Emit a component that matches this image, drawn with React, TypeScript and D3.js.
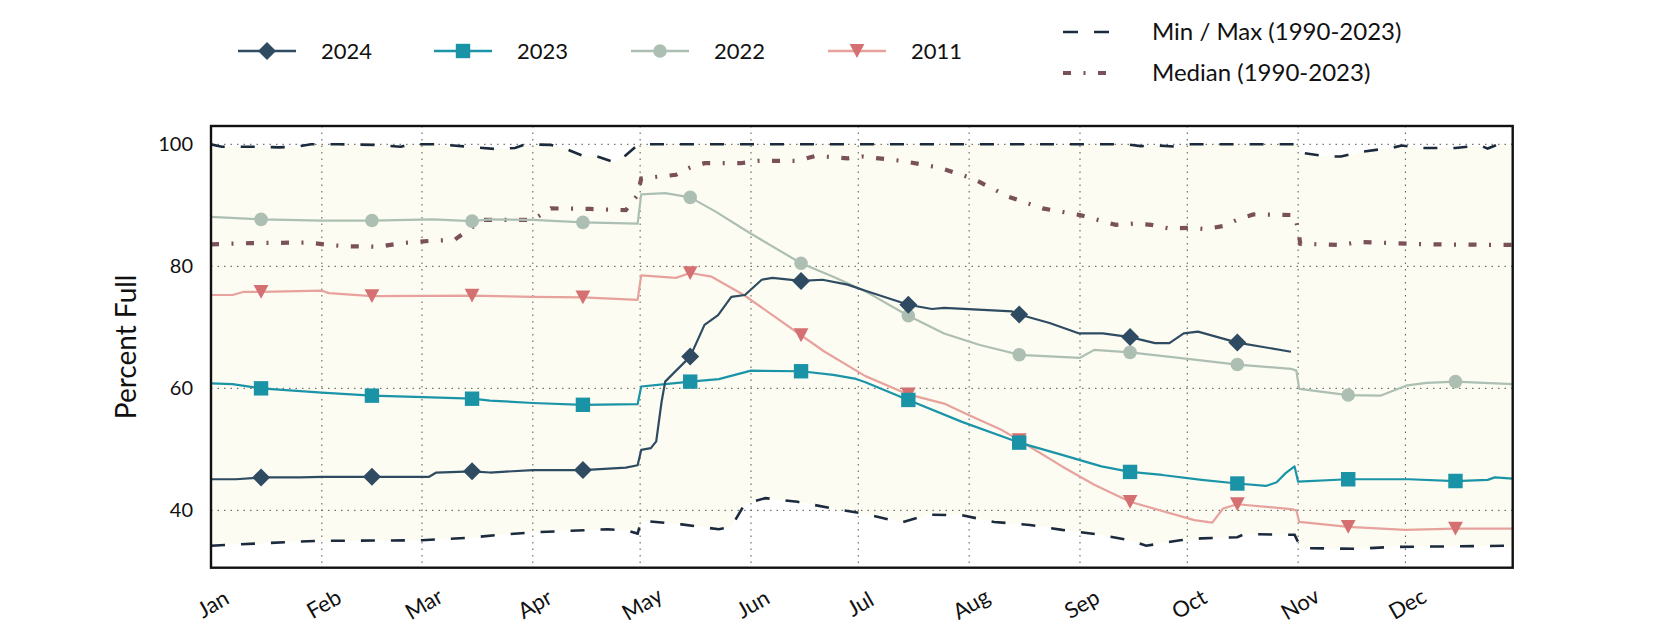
import React from 'react';
import * as d3 from 'd3';

type Pt = [number, number];

const monthLabels = ['Jan', 'Feb', 'Mar', 'Apr', 'May', 'Jun', 'Jul', 'Aug', 'Sep', 'Oct', 'Nov', 'Dec'];
const monthStartDays = [0, 31, 59, 90, 120, 151, 181, 212, 243, 273, 304, 334];
const yTicks = [40, 60, 80, 100];
const markerDays = [14, 45, 73, 104, 134, 165, 195, 226, 257, 287, 318, 348];

const series2024: Pt[] = [
  [0, 45.1], [7, 45.1], [14, 45.4], [25, 45.4], [31, 45.5], [45, 45.5], [61, 45.5], [63, 46.2], [73, 46.4],
  [78, 46.2], [90, 46.6], [104, 46.6], [116, 47.0], [119.3, 47.4], [120.3, 49.9], [123, 50.2], [124.5, 51.3],
  [126, 57.8], [127, 61.1], [129.7, 62.7], [134, 65.2], [138, 70.4], [141.8, 72.0], [145.5, 75.0], [149.3, 75.3],
  [154, 77.8], [157, 78.1], [165, 77.6], [171, 77.8], [178, 77.0], [183, 76.0], [195, 73.7], [201.6, 73.0],
  [205, 73.2], [224, 72.6], [226, 72.1], [234.5, 70.7], [242.8, 69.0], [249.4, 69.0], [257, 68.4], [264, 67.4],
  [268, 67.4], [272, 69.0], [276, 69.3], [287, 67.5], [302, 66.0],
];

const series2023: Pt[] = [
  [0, 60.8], [6, 60.7], [14, 60.0], [31, 59.3], [45, 58.8], [57, 58.6], [73, 58.3], [78, 58.0], [90, 57.6],
  [104, 57.3], [119.3, 57.4], [120.3, 60.3], [127, 60.7], [134, 61.1], [142, 61.5], [151, 62.9], [165, 62.8],
  [174, 62.2], [180, 61.6], [183, 61.0], [195, 58.1], [210, 54.5], [226, 51.1], [238, 49.1], [249, 47.2],
  [257, 46.3], [266, 45.8], [277, 45.0], [287, 44.4], [295, 44.0], [298, 44.6], [300.5, 46.1], [303, 47.2],
  [304, 44.7], [318, 45.1], [335, 45.1], [348, 44.8], [357, 45.0], [359, 45.4], [364, 45.2],
];

const series2022: Pt[] = [
  [0, 88.1], [14, 87.7], [31, 87.5], [45, 87.5], [62, 87.7], [73, 87.4], [78, 87.7], [90, 87.6], [104, 87.2],
  [119.3, 87.0], [120.3, 91.8], [127, 92.0], [134, 91.3], [141, 89.0], [150, 85.7], [165, 80.5], [174, 78.3],
  [183, 75.9], [195, 71.9], [205, 69.0], [215, 67.1], [226, 65.5], [243, 65.0], [247, 66.3], [257, 65.9],
  [275, 64.7], [287, 63.9], [302, 63.2], [303.5, 62.9], [304.3, 59.9], [318, 58.9], [327, 58.8], [334.5, 60.5],
  [340, 60.9], [348, 61.1], [364, 60.7],
];

const series2011: Pt[] = [
  [0, 75.3], [6, 75.3], [9, 75.8], [14, 75.8], [31, 76.0], [33, 75.6], [45, 75.1], [73, 75.2], [90, 75.0],
  [104, 74.9], [119.3, 74.5], [120.3, 78.5], [130, 78.1], [134, 78.9], [140, 78.3], [149, 75.3], [165, 68.7],
  [171.6, 66.0], [183, 62.0], [195, 59.0], [205, 57.5], [212, 55.6], [221, 53.2], [226, 51.5], [238, 47.2],
  [247, 44.2], [257, 41.4], [275, 38.4], [280, 38.0], [283, 40.3], [287, 41.0], [302, 40.2], [303.5, 40.0],
  [304.3, 38.1], [318, 37.3], [334, 36.8], [348, 37.0], [364, 37.0],
];

const seriesMedian: Pt[] = [
  [0, 83.6], [11, 83.8], [27, 83.9], [31.6, 83.6], [37, 83.3], [47, 83.2], [53, 83.8], [62, 84.2], [68, 84.3],
  [72, 86.0], [76, 87.6], [90, 87.6], [95, 89.5], [106, 89.4], [116, 89.2], [119.3, 91.7], [120.3, 94.4],
  [130, 95.0], [134, 96.2], [138, 96.9], [148, 96.9], [153, 97.3], [164, 97.3], [169, 98.1], [178, 97.7],
  [182, 98.0], [193, 97.3], [203.5, 96.2], [213, 94.4], [223, 91.4], [232.5, 89.5], [243, 88.4], [253, 86.8],
  [258, 87.0], [263, 86.8], [268, 86.2], [274, 86.3], [278, 86.1], [283, 86.6], [288, 87.9], [291.5, 88.5],
  [303, 88.4], [304, 86.0], [304.6, 83.7], [316, 83.5], [321, 84.0], [331, 83.8], [340, 83.6], [364, 83.5],
];

const seriesMax: Pt[] = [
  [0, 100], [3, 99.6], [13, 99.6], [19, 99.5], [24, 99.6], [28, 100], [36, 100], [46, 99.9], [53, 99.6],
  [56, 100], [64, 100], [72, 99.6], [80, 99.2], [85, 99.4], [88, 100], [95, 99.9], [99, 99.3], [104, 98.1],
  [108, 98.0], [113, 97.0], [116, 98.2], [119.5, 100], [256, 100], [260, 99.7], [265, 99.8], [270, 99.6],
  [274, 100], [303.5, 100], [305, 98.6], [312, 98.0], [316, 98.0], [322, 98.8], [330, 99.4], [333, 99.8],
  [338, 99.4], [348, 99.4], [355, 99.8], [357, 99.3], [360, 100], [364, 100],
];

const seriesMin: Pt[] = [
  [0, 34.2], [25, 34.9], [31, 35.0], [59, 35.1], [72, 35.5], [81, 36.0], [90, 36.4], [111, 36.9], [117, 36.6],
  [119.3, 36.2], [120.3, 38.3], [131.6, 37.7], [142, 36.9], [145.5, 37.3], [149.3, 41.1], [155, 42.0],
  [164, 41.4], [174, 40.3], [183, 39.4], [193, 38.0], [200.7, 39.3], [210, 39.2], [219, 38.1], [229, 37.6],
  [238, 36.8], [247.5, 36.1], [257, 35.1], [261.5, 34.2], [271, 35.1], [277, 35.4], [287, 35.6], [289, 36.1],
  [303, 36.0], [304, 34.8], [305, 33.8], [321, 33.7], [330, 34.0], [364, 34.2],
];

type Marker = 'diamond' | 'square' | 'circle' | 'tri';
interface SeriesDef { name: string; data: Pt[]; line: string; mark: string; marker: Marker; }

const seriesDefs: SeriesDef[] = [
  { name: '2024', data: series2024, line: '#2e4b62', mark: '#2e4b62', marker: 'diamond' },
  { name: '2023', data: series2023, line: '#1b94a8', mark: '#1a93a6', marker: 'square' },
  { name: '2022', data: series2022, line: '#adbfb3', mark: '#adbfb3', marker: 'circle' },
  { name: '2011', data: series2011, line: '#e7a29d', mark: '#d47071', marker: 'tri' },
];

const FONT = 'Lato, "Open Sans", sans-serif';

function markerPath(m: Marker, cx: number, cy: number): string {
  if (m === 'diamond') {
    const r = 9;
    return `M${cx},${cy - r}L${cx + r},${cy}L${cx},${cy + r}L${cx - r},${cy}Z`;
  }
  if (m === 'square') {
    const h = 7.2;
    return `M${cx - h},${cy - h}L${cx + h},${cy - h}L${cx + h},${cy + h}L${cx - h},${cy + h}Z`;
  }
  if (m === 'circle') {
    const r = 6.8;
    return `M${cx - r},${cy}A${r},${r} 0 1,0 ${cx + r},${cy}A${r},${r} 0 1,0 ${cx - r},${cy}Z`;
  }
  const w = 7.4, h = 6.9;
  return `M${cx - w},${cy - h}L${cx + w},${cy - h}L${cx},${cy + h}Z`;
}

export default function App() {
  const left = 211, right = 1512.7, top = 126, bottom = 567.7;
  const x = d3.scaleLinear().domain([0, 364]).range([left, right]);
  const y = d3.scaleLinear().domain([30.6, 103]).range([bottom, top]);
  const line = d3.line<Pt>().x(d => x(d[0])).y(d => y(d[1]));
  const envelope = line([...seriesMax, ...[...seriesMin].reverse()]) + 'Z';

  const drawOrder = [...seriesDefs].reverse();
  const legendX = [238, 434, 631, 828];

  return (
    <svg width={1680} height={630} style={{ position: 'absolute', left: 0, top: 0, background: '#fff' }}
      fontFamily={FONT}>
      <defs>
        <clipPath id="plotclip">
          <rect x={left} y={top} width={right - left} height={bottom - top} />
        </clipPath>
      </defs>
      <path d={envelope} fill="#fcfcf2" stroke="none" clipPath="url(#plotclip)" />
      {monthStartDays.slice(1).map(d => (
        <line key={'gx' + d} x1={x(d)} x2={x(d)} y1={top} y2={bottom} stroke="#555" strokeWidth={1}
          strokeDasharray="1.5,5" />
      ))}
      {yTicks.map(v => (
        <line key={'gy' + v} x1={left} x2={right} y1={y(v)} y2={y(v)} stroke="#555" strokeWidth={1}
          strokeDasharray="1.5,5" />
      ))}
      <g clipPath="url(#plotclip)">
        <path d={line(seriesMax) || ''} fill="none" stroke="#1b2a3d" strokeWidth={2.6} strokeDasharray="14,16" />
        <path d={line(seriesMin) || ''} fill="none" stroke="#1b2a3d" strokeWidth={2.6} strokeDasharray="14,16" />
        <path d={line(seriesMedian) || ''} fill="none" stroke="#7a5059" strokeWidth={4.2}
          strokeDasharray="8,12.5,2,12.5" />
        {drawOrder.map(s => (
          <g key={s.name}>
            <path d={line(s.data) || ''} fill="none" stroke={s.line} strokeWidth={2.2} strokeLinejoin="round" />
            {s.data.filter(p => markerDays.includes(p[0])).map(p => (
              <path key={p[0]} d={markerPath(s.marker, x(p[0]), y(p[1]))} fill={s.mark} />
            ))}
          </g>
        ))}
      </g>
      <rect x={left} y={top} width={right - left} height={bottom - top} fill="none" stroke="#111" strokeWidth={2.4} />
      {yTicks.map(v => (
        <text key={'yl' + v} x={193} y={y(v)} dy="0.35em" textAnchor="end" fontSize={20} fill="#111">{v}</text>
      ))}
      {monthStartDays.map((d, i) => (
        <text key={'xl' + d} transform={`translate(${x(d) + 2},${604}) rotate(-30)`} textAnchor="middle"
          dy="0.35em" fontSize={22} fill="#111">{monthLabels[i]}</text>
      ))}
      <text transform={`translate(126,${(top + bottom) / 2}) rotate(-90)`} textAnchor="middle" dy="0.35em"
        fontSize={28} fill="#111">Percent Full</text>
      {seriesDefs.map((s, i) => (
        <g key={'lg' + s.name}>
          <line x1={legendX[i]} x2={legendX[i] + 58} y1={51} y2={51} stroke={s.line} strokeWidth={2.4} />
          <path d={markerPath(s.marker, legendX[i] + 29, 51)} fill={s.mark} />
          <text x={legendX[i] + 83} y={51} dy="0.35em" fontSize={22} fill="#111">{s.name}</text>
        </g>
      ))}
      <line x1={1063} x2={1110} y1={32} y2={32} stroke="#1b2a3d" strokeWidth={2.6} strokeDasharray="15,16" />
      <text x={1152} y={32} dy="0.35em" fontSize={24} fill="#111">Min / Max (1990-2023)</text>
      <line x1={1063} x2={1110} y1={73} y2={73} stroke="#7a5059" strokeWidth={4.2} strokeDasharray="8,12.5,2,12.5" />
      <text x={1152} y={73} dy="0.35em" fontSize={24} fill="#111">Median (1990-2023)</text>
    </svg>
  );
}
